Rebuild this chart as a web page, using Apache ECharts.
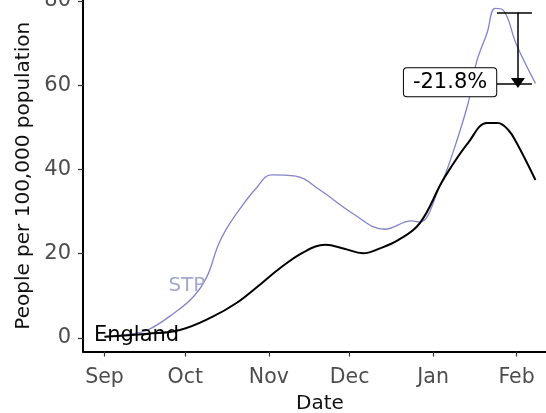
<!DOCTYPE html>
<html>
<head>
<meta charset="utf-8">
<script src="https://cdn.jsdelivr.net/npm/echarts@6/dist/echarts.min.js"></script>
<style>
html,body{margin:0;padding:0;background:#fff;}
#chart{width:546px;height:413px;}
</style>
</head>
<body>
<div id="chart"></div>
<script>
// ---- data ----
var englandDates = ['2020-09-01','2020-09-17','2020-09-29','2020-10-11','2020-10-20','2020-10-28','2020-11-05','2020-11-14','2020-11-22','2020-11-29','2020-12-06','2020-12-12','2020-12-19','2020-12-27','2021-01-04','2021-01-07','2021-01-14','2021-01-21','2021-01-25','2021-01-29','2021-02-01','2021-02-08'];
var englandValues = [0.3,1.0,1.9,5.0,8.3,12.3,16.5,20.4,22.1,21.2,20.1,21.2,23.2,27.2,36.7,39.9,46.3,51.0,51.0,49.3,46.3,37.5];

var stpDates = ['2020-09-01','2020-09-09','2020-09-17','2020-09-27','2020-10-04','2020-10-09','2020-10-13','2020-10-16','2020-10-21','2020-10-27','2020-11-02','2020-11-11','2020-11-20','2020-12-02','2020-12-14','2020-12-24','2020-12-27','2021-01-04','2021-01-07','2021-01-14','2021-01-17','2021-01-21','2021-01-24','2021-01-27','2021-02-01','2021-02-08'];
var stpValues = [0.3,0.8,1.9,6.0,9.8,14.5,21.7,25.6,30.4,35.3,38.7,38.4,35.1,29.6,25.8,27.8,27.5,36.7,41.4,55.7,65.2,72.3,78.2,77.8,69.5,60.4];

var monthTicks = ['2020-09-01','2020-10-01','2020-11-01','2020-12-01','2021-01-01','2021-02-01'];
var monthLabels = ['Sep','Oct','Nov','Dec','Jan','Feb'];
var yTicks = [0,20,40,60,80];

// annotation values
var peakValue = 77.2;
var lastValue = 60.4;
var changeText = '-21.8%';

// ---- build ----
var DAY = 86400000;
function ts(s){ var p = s.split('-'); return Date.UTC(+p[0], +p[1]-1, +p[2]); }
function pairs(d, v){ return d.map(function(x,i){ return [ts(x), v[i]]; }); }
var tickTs = monthTicks.map(ts);
var sep1 = ts('2020-09-01');
var xMin = sep1 - 7.98*DAY;
var xMax = sep1 + 168.0*DAY;

var bracketL = sep1 + 145.7*DAY;
var bracketR = sep1 + 158.7*DAY;
var arrowX = sep1 + 153.5*DAY;
var connL = sep1 + 140*DAY;

var font = 'DejaVu Sans';
var hidden = {color: 'rgba(0,0,0,0)'};
var chart = echarts.init(document.getElementById('chart'), null, {renderer:'canvas'});
chart.setOption({
  animation: false,
  backgroundColor: '#ffffff',
  grid: {left: 83, top: 0, width: 474, bottom: 61.5, containLabel: false, outerBoundsMode: 'none'},
  xAxis: {
    type: 'value', min: xMin, max: xMax,
    name: 'Date', nameLocation: 'middle', nameGap: 42,
    nameTextStyle: {fontFamily: font, fontSize: 20, color: '#111'},
    axisLine: {show: true, onZero: false, lineStyle: {color: '#000', width: 2}},
    axisTick: {show: true, length: 5, lineStyle: {color: '#333', width: 1.2}, customValues: tickTs},
    axisLabel: {
      fontFamily: font, fontSize: 20.5, color: '#4d4d4d', margin: 16,
      customValues: tickTs,
      formatter: function(v){ var i = tickTs.indexOf(v); return i >= 0 ? monthLabels[i] : ''; }
    },
    splitLine: {show: false}
  },
  yAxis: {
    type: 'value', min: -3.2, max: 80.19,
    name: 'People per 100,000 population', nameLocation: 'middle', nameGap: 48,
    nameTextStyle: {fontFamily: font, fontSize: 20, color: '#111'},
    axisLine: {show: true, onZero: false, lineStyle: {color: '#000', width: 2}},
    axisTick: {show: true, length: 5, lineStyle: {color: '#333', width: 1.2}, customValues: yTicks},
    axisLabel: {fontFamily: font, fontSize: 21, color: '#4d4d4d', margin: 12, customValues: yTicks},
    splitLine: {show: false}
  },
  series: [
    {
      name: 'STP', type: 'line', data: pairs(stpDates, stpValues),
      smooth: 0.4, showSymbol: false, symbol: 'none',
      lineStyle: {color: '#8383cc', width: 1.3},
      z: 2,
      markPoint: {
        symbol: 'circle', symbolSize: 1, itemStyle: hidden,
        data: [
          {coord: [sep1 + 30.6*DAY, 12.4], label: {show: true, position: 'inside', formatter: 'STP', fontFamily: font, fontSize: 20, color: '#a3a8cc'}}
        ]
      }
    },
    {
      name: 'England', type: 'line', data: pairs(englandDates, englandValues),
      smooth: 0.4, showSymbol: false, symbol: 'none',
      lineStyle: {color: '#000', width: 2},
      z: 3,
      markPoint: {
        symbol: 'circle', symbolSize: 1, itemStyle: hidden,
        data: [
          {coord: [sep1 + 11.9*DAY, 0.5], label: {show: true, position: 'inside', formatter: 'England', fontFamily: font, fontSize: 21, color: '#000'}}
        ]
      }
    },
    {
      name: 'annotation', type: 'line', data: [], z: 5,
      markLine: {
        silent: true, symbol: 'none',
        lineStyle: {color: '#000', width: 1.5, type: 'solid'},
        label: {show: false},
        data: [
          [{coord: [bracketL, peakValue]}, {coord: [bracketR, peakValue]}],
          [{coord: [connL, lastValue]}, {coord: [bracketR, lastValue]}],
          [{coord: [arrowX, peakValue], symbol: 'none'}, {coord: [arrowX, lastValue + 0.1], symbol: 'triangle', symbolSize: [14, 10], symbolRotate: 180}]
        ]
      },
      markPoint: {
        symbol: 'circle', symbolSize: 1, itemStyle: hidden, z: 10,
        data: [
          {coord: [sep1 + 128.3*DAY, 60.7], label: {show: true, position: 'inside', formatter: changeText, fontFamily: font, fontSize: 21, color: '#000', backgroundColor: '#fff', borderColor: '#000', borderWidth: 1, borderRadius: 3, padding: [4, 9, 3, 9]}}
        ]
      }
    }
  ]
});
</script>
</body>
</html>
